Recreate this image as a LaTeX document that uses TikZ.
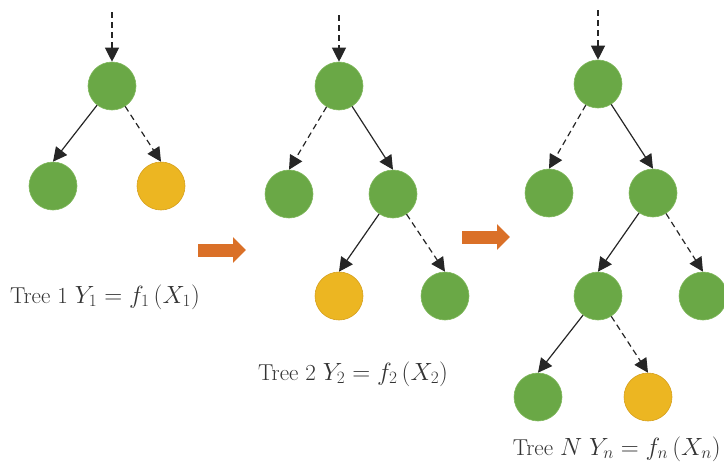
\documentclass[tikz,border=0pt]{standalone}
\usetikzlibrary{arrows.meta}
\definecolor{leafgreen}{RGB}{106,168,70}
\definecolor{leafgreenedge}{RGB}{130,185,95}
\definecolor{leafyellow}{RGB}{236,182,34}
\definecolor{leafyellowedge}{RGB}{214,160,30}
\definecolor{flowarrow}{RGB}{218,112,40}
\begin{document}
\begin{tikzpicture}[x=1pt,y=-1pt,
  gnode/.style={circle,minimum size=48pt,inner sep=0pt,fill=leafgreen,draw=leafgreenedge,line width=0.6pt},
  ynode/.style={circle,minimum size=48pt,inner sep=0pt,fill=leafyellow,draw=leafyellowedge,line width=0.6pt},
  edgesolid/.style={line width=1.2pt,draw=black!85,-{Triangle[width=14pt,length=14pt]}},
  edgedash/.style={edgesolid,dash pattern=on 6pt off 4pt},
  flow/.style={line width=13pt,draw=flowarrow,-{Triangle[width=25pt,length=13pt]}},
  lab/.style={font=\fontsize{23}{27}\selectfont,inner sep=0pt,text=black!80}]
\useasboundingbox (0,0) rectangle (724,469);
% Tree 1
\coordinate (t1in) at (112,12);
\node[gnode] (a0) at (112,86) {};
\node[gnode] (a1) at (53,186) {};
\node[ynode] (a2) at (161,186) {};
\draw[edgedash] (t1in) -- (a0.north);
\draw[edgesolid] (a0) -- (a1.north);
\draw[edgedash] (a0) -- (a2.north);
\node[lab] (l1) at (105,297) {Tree 1 $Y_1 = f_1\,(X_1)$};
% Tree 2
\coordinate (t2in) at (339,15);
\node[gnode] (b0) at (339,86) {};
\node[gnode] (b1) at (289,194) {};
\node[gnode] (b2) at (393,194) {};
\node[ynode] (b3) at (339,296) {};
\node[gnode] (b4) at (445,296) {};
\draw[edgedash] (t2in) -- (b0.north);
\draw[edgedash] (b0) -- (b1.north);
\draw[edgesolid] (b0) -- (b2.north);
\draw[edgesolid] (b2) -- (b3.north);
\draw[edgedash] (b2) -- (b4.north);
\node[lab] (l2) at (353,374) {Tree 2 $Y_2 = f_2\,(X_2)$};
% Tree N
\coordinate (t3in) at (598,10);
\node[gnode] (c0) at (598,84) {};
\node[gnode] (c1) at (549,193) {};
\node[gnode] (c2) at (653,193) {};
\node[gnode] (c3) at (598,296) {};
\node[gnode] (c4) at (703,296) {};
\node[gnode] (c5) at (538,397) {};
\node[ynode] (c6) at (648,397) {};
\draw[edgedash] (t3in) -- (c0.north);
\draw[edgedash] (c0) -- (c1.north);
\draw[edgesolid] (c0) -- (c2.north);
\draw[edgesolid] (c2) -- (c3.north);
\draw[edgedash] (c2) -- (c4.north);
\draw[edgesolid] (c3) -- (c5.north);
\draw[edgedash] (c3) -- (c6.north);
\node[lab,anchor=east] (l3) at (721,449) {Tree $N$ $Y_n = f_n\,(X_n)$};
% flow arrows
\coordinate (f1s) at (198,250);
\coordinate (f1e) at (246,250);
\coordinate (f2s) at (462,237);
\coordinate (f2e) at (510,237);
\draw[flow] (f1s) -- (f1e);
\draw[flow] (f2s) -- (f2e);
\end{tikzpicture}
\end{document}
